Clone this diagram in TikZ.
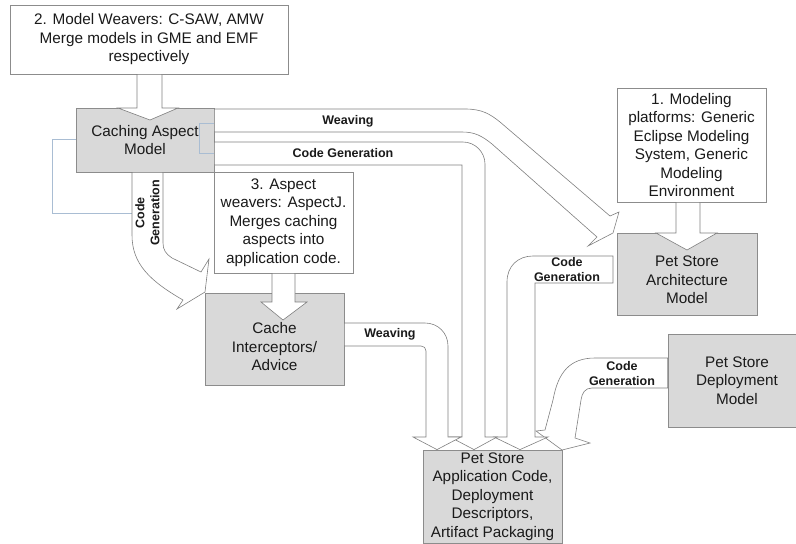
\documentclass[tikz,border=0pt]{standalone}
\usepackage{fontspec}
\setmainfont{Liberation Sans}
\usetikzlibrary{calc}
\definecolor{edgegray}{HTML}{808080}
\definecolor{framegray}{HTML}{8C8C8C}
\definecolor{fillgray}{HTML}{D9D9D9}
\definecolor{inkgray}{HTML}{1A1A1A}
\definecolor{wireblue}{HTML}{A9BDD3}
\tikzset{
  blockarrow/.style={draw=edgegray, fill=white, line width=0.6pt, line join=miter},
  modelbox/.style={draw=framegray, fill=fillgray, line width=0.8pt, rectangle, inner sep=0pt,
    text=inkgray, align=center, font=\fontsize{15.3}{18.5}\selectfont},
  notebox/.style={modelbox, fill=white},
  flowlabel/.style={text=inkgray, align=center, inner sep=0pt,
    font=\fontsize{12.5}{15}\selectfont\bfseries},
  wire/.style={draw=wireblue, line width=0.6pt}
}
\begin{document}
\begin{tikzpicture}[x=1pt,y=-1pt]
\useasboundingbox (0,0) rectangle (796,544);
\fill[white] (0,0) rectangle (796,544);

% boxes
\node[notebox, minimum width=278pt, minimum height=69pt] (b2) at (149,39.5)
  {2. Model Weavers: C-SAW, AMW\\Merge models in GME and EMF\\respectively};
\node[modelbox, minimum width=138pt, minimum height=64pt] (cam) at (145,140)
  {Caching Aspect\\Model};
\node[notebox, minimum width=139pt, minimum height=101pt] (b3) at (283.5,222.5)
  {3. Aspect\\weavers: AspectJ.\\Merges caching\\aspects into\\application code.};
\node[modelbox, minimum width=139pt, minimum height=92pt] (cia) at (274.5,339)
  {\rule{0pt}{27pt}Cache\\Interceptors/\\Advice};
\node[modelbox, minimum width=139pt, minimum height=93pt] (app) at (492.5,496.5)
  {Pet Store\\Application Code,\\Deployment\\Descriptors,\\Artifact Packaging};
\node[modelbox, minimum width=138pt, minimum height=93pt] (dep) at (737,380.5)
  {Pet Store\\Deployment\\Model};
\node[notebox, minimum width=149pt, minimum height=114pt] (b1) at (691.5,145)
  {1. Modeling\\platforms: Generic\\Eclipse Modeling\\System, Generic\\Modeling\\Environment};
\node[modelbox, minimum width=140pt, minimum height=82pt] (psa) at (687,274)
  {\rule{0pt}{23pt}Pet Store\\Architecture\\Model};

% thin connector lines around the caching aspect model
\draw[wire] (cam.east |- 0,123) -- (199,123) -- (199,153) -- (cam.east |- 0,153);
\draw[wire] (cam.west |- 0,139) -- (52,139) -- (52,213) -- (132,213);

% note arrows into the models
\draw[blockarrow] (137,0 |- b2.south) -- (137,108) -- (118,108) -- (150,120)
  -- (178,108) -- (162,108) -- (162,0 |- b2.south) -- cycle;
\draw[blockarrow] (272,0 |- b3.south) -- (272,302) -- (261,302) -- (283,320)
  -- (307,302) -- (295,302) -- (295,0 |- b3.south) -- cycle;
\draw[blockarrow] (676,0 |- b1.south) -- (676,233) -- (656,233) -- (687,250)
  -- (717,233) -- (700,233) -- (700,0 |- b1.south) -- cycle;

% weaving: caching aspect model -> architecture model
\draw[blockarrow] (cam.east |- 0,109) -- (465,109) .. controls (482,109) and (490,114) .. (500,122)
  -- (610,216) -- (619,212) -- (613,233) -- (588,246) -- (597,237)
  -- (492,144) .. controls (482,136) and (475,132) .. (462,132) -- (cam.east |- 0,132) -- cycle;

% code generation: caching aspect model -> cache interceptors
\draw[blockarrow] (163,0 |- cam.south) -- (163,243) .. controls (163,250) and (166,254) .. (172,258)
  -- (201,272) -- (209,259) -- (205,292) -- (177,309) -- (183,300)
  .. controls (150,281) and (132,264) .. (132,235) -- (132,0 |- cam.south) -- cycle;

% code generation: deployment model -> application code
\draw[blockarrow] (dep.west |- 0,358) -- (595,358) .. controls (570,358) and (558,372) .. (553,400)
  -- (545,430) -- (536,431) -- (562,450) -- (590,443) -- (575,438)
  -- (581,400) .. controls (582,393) and (585,388) .. (592,388) -- (dep.west |- 0,388) -- cycle;

% code generation: architecture model -> application code
\draw[blockarrow] (613,256) -- (533,256) .. controls (518,256) and (507,266) .. (507,282)
  -- (507,437) -- (494,437) -- (520,0 |- app.north) -- (548,437) -- (535,437)
  -- (535,283) -- (613,283) -- cycle;

% code generation: caching aspect model -> application code
\draw[blockarrow] (cam.east |- 0,142) -- (463,142) .. controls (475,142) and (485,152) .. (485,164)
  -- (485,437) -- (497,437) -- (474,0 |- app.north) -- (450,437) -- (462,437)
  -- (462,165) -- (cam.east |- 0,165) -- cycle;

% weaving: cache interceptors -> application code
\draw[blockarrow] (cia.east |- 0,323) -- (425,323) .. controls (438,323) and (448,333) .. (448,346)
  -- (448,437) -- (461,437) -- (437,0 |- app.north) -- (413,437) -- (426,437)
  -- (426,351) .. controls (426,348) and (424,346) .. (421,346) -- (cia.east |- 0,346) -- cycle;

% flow labels
\node[flowlabel] (lw1) at (348,121) {Weaving};
\node[flowlabel] (lc1) at (343,153) {Code Generation};
\node[flowlabel, rotate=90] (lc2a) at (140,213) {Code};
\node[flowlabel, rotate=90] (lc2b) at (155,213) {Generation};
\node[flowlabel] (lc3) at (567,269.5) {Code\\Generation};
\node[flowlabel] (lw2) at (390,334) {Weaving};
\node[flowlabel] (lc4) at (622,373.5) {Code\\Generation};
\end{tikzpicture}
\end{document}
